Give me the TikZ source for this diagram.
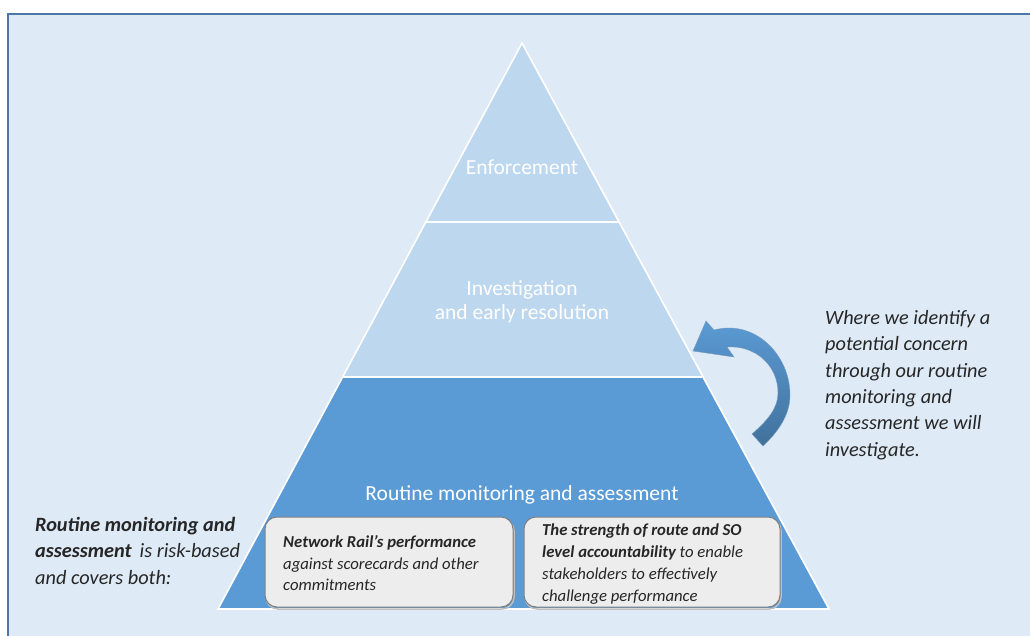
\documentclass[tikz,border=0pt]{standalone}
\usepackage{fontspec}
\setmainfont{Carlito}
\definecolor{bg}{HTML}{DEEAF6}
\definecolor{light}{HTML}{BDD7EE}
\definecolor{mid}{HTML}{5B9BD5}
\definecolor{dark}{HTML}{41719C}
\definecolor{framec}{HTML}{4A76A8}
\definecolor{boxfill}{HTML}{EDEDED}
\definecolor{boxline}{HTML}{7F7F7F}
\begin{document}
\begin{tikzpicture}[x=1pt,y=-1pt,
  layer/.style={draw=white, line width=1.6pt, line join=miter},
  lbl/.style={text=white, font=\fontsize{21.5}{24}\selectfont, align=center, inner sep=0pt},
  card/.style={draw=boxline, fill=boxfill, line width=1pt, rounded corners=12pt},
  cardtext/.style={font=\fontsize{16.7}{21.8}\selectfont\itshape, align=left, anchor=north west, inner sep=0pt, text=black!85},
  note/.style={font=\fontsize{20.3}{26.4}\selectfont\itshape, align=left, anchor=north west, inner sep=0pt, text=black!85}]
\useasboundingbox (0,0) rectangle (1030,635);
\fill[white] (0,0) rectangle (1030,635);
\draw[framec, fill=bg, line width=1.5pt] (8,14) rectangle (1045,650);
% pyramid
\coordinate (A) at (522,43);
\coordinate (P1L) at (426,222);
\coordinate (P1R) at (619,222);
\coordinate (P2L) at (343,377);
\coordinate (P2R) at (702,377);
\coordinate (BL) at (218,609);
\coordinate (BR) at (829,609);
\fill[mid] (P2L) -- (P2R) -- (BR) -- (BL) -- cycle;
\fill[light] (P1L) -- (P1R) -- (P2R) -- (P2L) -- cycle;
\fill[light] (A) -- (P1R) -- (P1L) -- cycle;
\draw[layer] (A) -- (BR) -- (BL) -- cycle;
\draw[layer] (P1L) -- (P1R);
\draw[layer] (P2L) -- (P2R);
\node[lbl] (enf) at (522,167) {Enforcement};
\node[lbl] (inv) at (522,302) {Investigation\\and early resolution};
\node[lbl] (rma) at (522,495) {Routine monitoring and assessment};
% cards
\draw[black!25, line width=1.5pt, rounded corners=12pt] (266,519) rectangle (514,609);
\draw[black!25, line width=1.5pt, rounded corners=12pt] (525,519) rectangle (781,609);
\draw[card] (265,517) rectangle (513,607);
\draw[card] (524,517) rectangle (780,607);
\node[cardtext] (c1) at (283,535) {\textbf{Network Rail’s performance}\\against scorecards and other\\commitments};
\node[cardtext] (c2) at (542,524) {\textbf{The strength of route and SO}\\\textbf{level accountability} to enable\\stakeholders to effectively\\challenge performance};
% left note
\node[note] (ln) at (35,517) {\textbf{Routine monitoring and}\\\textbf{assessment} \,is risk-based\\and covers both:};
% right note
\node[note] (rn) at (825,310) {Where we identify a\\potential concern\\through our routine\\monitoring and\\assessment we will\\investigate.};
% curved arrow
\shade[top color=mid, bottom color=dark, draw=dark!70, line width=0.4pt]
  (693,351) -- (706,321) -- (714,330)
  .. controls (755,319) and (790,355) .. (790,395)
  .. controls (790,415) and (778,432) .. (763,446)
  -- (752,434)
  .. controls (768,420) and (778,408) .. (778,393)
  .. controls (778,365) and (755,345) .. (727,347)
  -- (734,357) -- cycle;
\end{tikzpicture}
\end{document}
